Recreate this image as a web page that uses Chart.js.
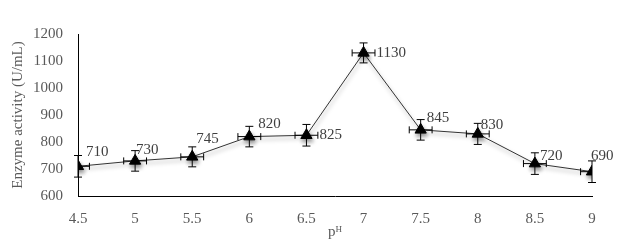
<!DOCTYPE html>
<html>
<head>
<meta charset="utf-8">
<script src="https://cdn.jsdelivr.net/npm/chart.js@4/dist/chart.umd.min.js"></script>
<style>
  html, body { margin: 0; padding: 0; background: #fff; }
  #wrap { width: 627px; height: 244px; }
</style>
</head>
<body>
<div id="wrap"><canvas id="phChart" width="627" height="244"></canvas></div>
<script>
// pH values and enzyme activity
var phValues = [4.5, 5, 5.5, 6, 6.5, 7, 7.5, 8, 8.5, 9];
var activity = [710, 730, 745, 820, 825, 1130, 845, 830, 720, 690];
var activityErr = [40, 38, 37, 38, 40, 37, 38, 39, 40, 40];
var phErr = [0.1, 0.1, 0.1, 0.1, 0.1, 0.1, 0.1, 0.1, 0.1, 0.1];
var yTicks = [600, 700, 800, 900, 1000, 1100, 1200];

// where each value label sits relative to its point (px)
var labelOffsets = [[8, -14], [1, -11], [4, -18], [9, -13], [13, 0], [13, 0], [6, -12], [3, -9], [5, -8], [-1, -16]];

var serif = "'Liberation Serif', 'Times New Roman', serif";

// drop shadow under the line, like the Excel original
var shadowPlugin = {
    id: 'shadow',
    beforeDatasetsDraw: function(chart) {
        var c = chart.ctx;
        c.save();
        c.shadowColor = 'rgba(0,0,0,0.4)';
        c.shadowBlur = 4;
        c.shadowOffsetX = 1;
        c.shadowOffsetY = 3;
    },
    afterDatasetsDraw: function(chart) {
        chart.ctx.restore();
    }
};

var errorBarPlugin = {
    id: 'errorBars',
    afterDatasetsDraw: function(chart) {
        var c = chart.ctx;
        var xs = chart.scales.x, ys = chart.scales.y;
        var area = chart.chartArea;
        c.save();
        c.strokeStyle = '#000';
        c.lineWidth = 1;
        for (var i = 0; i < phValues.length; i++) {
            var px = xs.getPixelForValue(phValues[i]);
            var py = ys.getPixelForValue(activity[i]);
            var yTop = ys.getPixelForValue(activity[i] + activityErr[i]);
            var yBot = ys.getPixelForValue(activity[i] - activityErr[i]);
            c.beginPath();
            c.moveTo(px, yTop); c.lineTo(px, yBot);
            c.moveTo(px - 4, yTop); c.lineTo(px + 4, yTop);
            c.moveTo(px - 4, yBot); c.lineTo(px + 4, yBot);
            c.stroke();
            // horizontal bars are clipped to the plot area
            c.save();
            c.beginPath();
            c.rect(area.left, 0, area.right - area.left, chart.height);
            c.clip();
            var xL = xs.getPixelForValue(phValues[i] - phErr[i]);
            var xR = xs.getPixelForValue(phValues[i] + phErr[i]);
            c.beginPath();
            c.moveTo(xL, py); c.lineTo(xR, py);
            c.moveTo(xL, py - 3.5); c.lineTo(xL, py + 3.5);
            c.moveTo(xR, py - 3.5); c.lineTo(xR, py + 3.5);
            c.stroke();
            c.restore();
        }
        c.restore();
    }
};

var valueLabelPlugin = {
    id: 'valueLabels',
    afterDraw: function(chart) {
        var c = chart.ctx;
        var xs = chart.scales.x, ys = chart.scales.y;
        c.save();
        c.font = '15px ' + serif;
        c.fillStyle = '#404040';
        c.textAlign = 'left';
        c.textBaseline = 'middle';
        for (var i = 0; i < activity.length; i++) {
            var px = xs.getPixelForValue(phValues[i]);
            var py = ys.getPixelForValue(activity[i]);
            c.fillText(String(activity[i]), px + labelOffsets[i][0], py + labelOffsets[i][1]);
        }
        c.restore();
    }
};

var ctx = document.getElementById('phChart').getContext('2d');
var myChart = new Chart(ctx, {
    type: 'line',
    data: {
        datasets: [{
            label: 'Enzyme activity',
            data: phValues.map(function(p, i) { return {x: p, y: activity[i]}; }),
            borderColor: '#333',
            borderWidth: 1,
            pointStyle: 'triangle',
            pointRadius: 6.5,
            pointBackgroundColor: '#000',
            pointBorderColor: '#000',
            pointBorderWidth: 1,
            tension: 0
        }]
    },
    options: {
        responsive: false,
        animation: false,
        layout: {
            padding: {top: 34, right: 35, left: 0, bottom: 0}
        },
        plugins: {
            legend: {display: false},
            tooltip: {enabled: false}
        },
        scales: {
            x: {
                type: 'linear',
                min: 4.5,
                max: 9,
                ticks: {
                    stepSize: 0.5,
                    padding: 14,
                    color: '#595959',
                    font: {family: serif, size: 15},
                    callback: function(v) { return String(v); }
                },
                grid: {display: false, drawTicks: false},
                border: {display: true, color: '#000', width: 1},
                title: {
                    display: true,
                    text: 'pᴴ',
                    color: '#595959',
                    padding: {top: 0, bottom: 3},
                    font: {family: serif, size: 15}
                },
                afterFit: function(scale) { scale.height = 48; }
            },
            y: {
                min: 600,
                max: 1200,
                afterBuildTicks: function(scale) {
                    scale.ticks = yTicks.map(function(v) { return {value: v}; });
                },
                ticks: {
                    padding: 15,
                    color: '#595959',
                    font: {family: serif, size: 15},
                    callback: function(v) { return String(v); }
                },
                grid: {display: false, drawTicks: false},
                border: {display: true, color: '#000', width: 1},
                title: {
                    display: true,
                    text: 'Enzyme activity (U/mL)',
                    color: '#595959',
                    padding: {top: 9, bottom: 0},
                    font: {family: serif, size: 15}
                },
                afterFit: function(scale) { scale.width = 78; }
            }
        }
    },
    plugins: [shadowPlugin, errorBarPlugin, valueLabelPlugin]
});
</script>
</body>
</html>
